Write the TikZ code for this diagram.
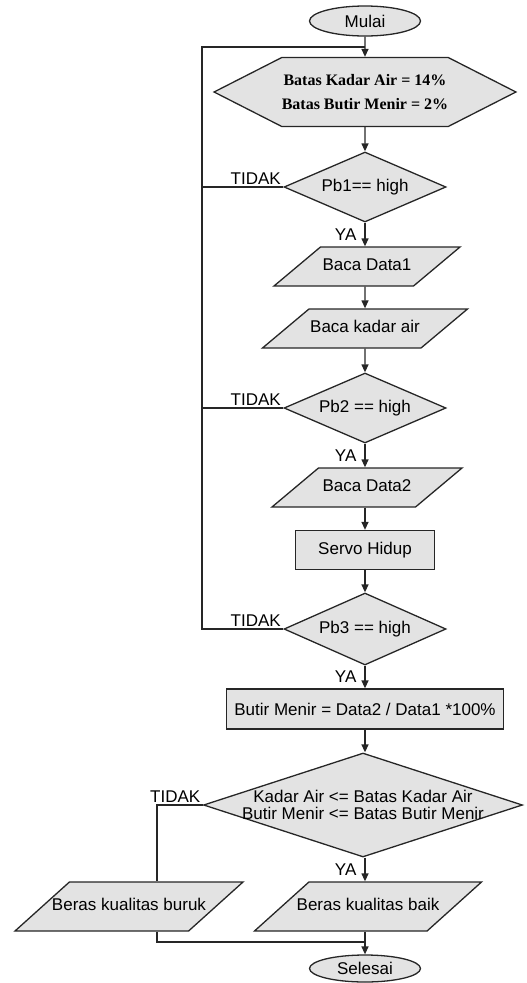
\documentclass[tikz,border=0pt]{standalone}
\usepackage{fontspec}
\setmainfont{Liberation Sans}
\newfontfamily\hexserif{Liberation Serif}
\usetikzlibrary{shapes.geometric,shapes.symbols,arrows.meta}

\tikzset{
	base/.style={draw=black!85, line width=1.3pt, fill=black!11, inner sep=0pt, align=center, font=\fontsize{17}{17}\selectfont},
	terminal/.style={base, ellipse, minimum width=111pt, minimum height=30pt},
	prep/.style={base, signal, signal to=west and east, signal pointer angle=54, minimum width=273pt, minimum height=69pt, font=\hexserif\bfseries\fontsize{16}{24}\selectfont},
	cond/.style={base, diamond, aspect=2.3, minimum width=162pt, minimum height=70pt},
	io/.style={base, trapezium, trapezium left angle=40, trapezium right angle=140, trapezium stretches body, text height=12pt, text depth=4pt, inner ysep=11.5pt},
	result/.style={io, trapezium left angle=42, trapezium right angle=138, inner ysep=16.5pt, inner xsep=-18pt},
	proc/.style={base, rectangle, minimum height=39pt},
	line/.style={draw=black!85, line width=1.3pt},
	arr/.style={line, -{Triangle[length=8pt,width=7pt]}},
	lbl/.style={font=\fontsize{17}{17}\selectfont, inner sep=2pt}
}

\begin{document}
\begin{tikzpicture}[x=1pt,y=-1pt]
	\useasboundingbox (0,0) rectangle (527,983);
	\node[terminal] (mulai) at (365,21) {Mulai};
	\node[prep] (batas) at (365,92) {Batas Kadar Air = 14\%\\Batas Butir Menir = 2\%};
	\node[cond] (pb1) at (365,187) {Pb1== high};
	\node[io, minimum width=186pt] (data1) at (367,266.5) {Baca Data1};
	\node[io, minimum width=205pt] (kadar) at (365,328.5) {Baca kadar air};
	\node[cond] (pb2) at (365,408) {Pb2 == high};
	\node[io, minimum width=190pt] (data2) at (367,487.5) {Baca Data2};
	\node[proc, minimum width=139pt] (servo) at (365,550) {Servo Hidup};
	\node[cond, minimum height=72pt] (pb3) at (365,629) {Pb3 == high};
	\node[proc, minimum width=277pt, minimum height=40pt] (butir) at (365,709) {Butir Menir = Data2 / Data1 *100\%};
	\node[cond, aspect=3.07, inner xsep=-17pt, minimum width=319pt, minimum height=104pt] (cek) at (363,805) {Kadar Air <= Batas Kadar Air\\Butir Menir <= Batas Butir Menir};
	\node[result, minimum width=228pt] (buruk) at (129,906.5) {Beras kualitas buruk};
	\node[result, minimum width=227pt] (baik) at (368,906.5) {Beras kualitas baik};
	\node[terminal, minimum height=27pt] (selesai) at (365,968.5) {Selesai};
	
	\coordinate (loop) at (202,47);
	\coordinate (top) at (mulai.south |- loop);
	\coordinate (tk) at (157,805);
	\coordinate (join) at (365,942);
	
	\draw[arr] (mulai) -- (batas);
	\draw[arr] (batas) -- (pb1);
	\draw[arr] (pb1) -- node[lbl,left=6pt]{YA} (pb1.south |- data1.north);
	\draw[arr] (data1.south -| kadar) -- (kadar);
	\draw[arr] (kadar) -- (pb2);
	\draw[arr] (pb2) -- node[lbl,left=6pt]{YA} (pb2.south |- data2.north);
	\draw[arr] (data2.south -| servo) -- (servo);
	\draw[arr] (servo) -- (pb3);
	\draw[arr] (pb3) -- node[lbl,left=6pt]{YA} (butir);
	\draw[arr] (butir) -- (cek.north -| butir);
	\draw[arr] (cek.south -| butir) -- node[lbl,left=6pt]{YA} (baik.north -| butir);
	\draw[arr] (baik.south -| selesai) -- (selesai);
	
	\draw[line] (pb1.west) node[lbl,above left]{TIDAK} -- (pb1.west -| loop);
	\draw[line] (pb2.west) node[lbl,above left]{TIDAK} -- (pb2.west -| loop);
	\draw[line] (pb3.west) node[lbl,above left]{TIDAK} -| (loop) -- (top);
	\draw[line] (cek.west) node[lbl,above left]{TIDAK} -- (tk) -- (tk |- buruk.north);
	\draw[line] (tk |- buruk.south) -- (tk |- join) -- (join);
\end{tikzpicture}
\end{document}
